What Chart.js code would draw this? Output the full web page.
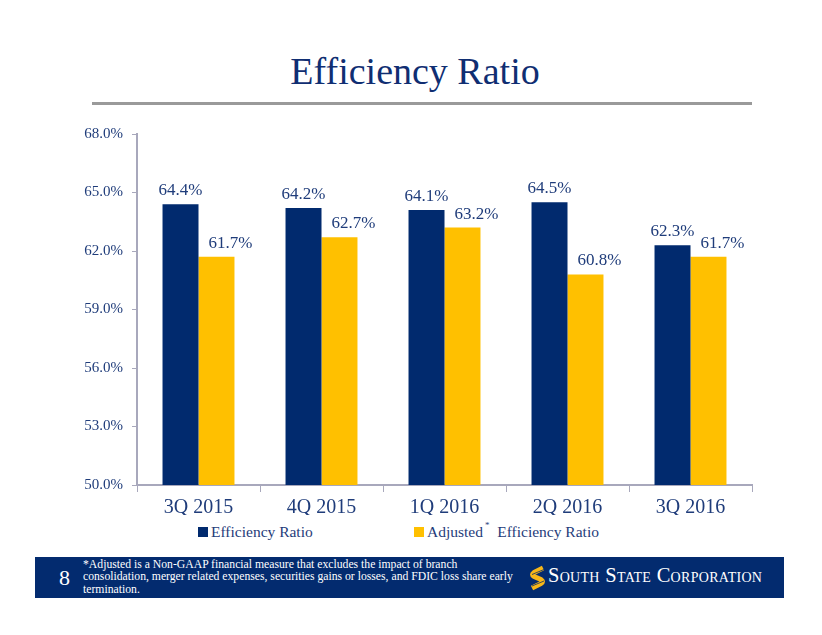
<!DOCTYPE html>
<html>
<head>
<meta charset="utf-8">
<script src="https://cdn.jsdelivr.net/npm/chart.js@4/dist/chart.umd.min.js"></script>
<style>
  html,body{margin:0;padding:0;background:#fff;}
  body{width:822px;height:635px;position:relative;overflow:hidden;font-family:"Liberation Serif",serif;}
  #title{position:absolute;left:0;width:830px;top:49px;text-align:center;font-size:38px;color:#102E72;font-family:"Liberation Serif",serif;}
  #rule{position:absolute;left:92px;top:102px;width:660px;height:3px;background:#9a9a9a;}
  #wrap{position:absolute;left:60px;top:116px;width:700px;height:399px;}
  .leg{position:absolute;top:523px;font-size:15.5px;color:#1F3C7A;white-space:nowrap;}
  .sw{display:inline-block;width:10px;height:10px;margin-right:3px;vertical-align:0px;}
  #footer{position:absolute;left:35px;top:557px;width:749px;height:41px;background:#032B6F;}
  #pg{position:absolute;left:24px;top:8px;font-size:22px;color:#fff;}
  #note{position:absolute;left:48px;top:2px;font-size:11.7px;line-height:12.4px;color:#fff;white-space:nowrap;}
  #logo{position:absolute;left:493px;top:7px;height:28px;}
  #logotxt{position:absolute;left:20px;top:0px;font-size:20.5px;color:#fff;font-variant:small-caps;white-space:nowrap;letter-spacing:0.3px;}
</style>
</head>
<body>
<div id="title">Efficiency Ratio</div>
<div id="rule"></div>
<div id="wrap"><canvas id="c"></canvas></div>
<div class="leg" style="left:198px;"><span class="sw" style="background:#012A6E"></span>Efficiency Ratio</div>
<div class="leg" style="left:414px;"><span class="sw" style="background:#FFC000"></span>Adjusted<sup style="font-size:9px;position:relative;top:-3px;margin-left:2px;">*</sup>&nbsp;&nbsp;Efficiency Ratio</div>
<div id="footer">
  <div id="pg">8</div>
  <div id="note">*Adjusted is a Non-GAAP financial measure that excludes the impact of branch<br>consolidation, merger related expenses, securities gains or losses, and FDIC loss share early<br>termination.</div>
  <div id="logo">
    <svg width="20" height="26" viewBox="0 0 20 26" style="position:absolute;left:0;top:1px;">
      <path d="M15 3 L6 7.5 Q3 9.5 6 11.5 L13 14.5 Q16 16.5 13 18.5 L4 23" fill="none" stroke="#F7B718" stroke-width="5" stroke-linecap="butt" stroke-linejoin="round"/>
      <path d="M4 9.5 L16 4.5 M4 21 L16 16" stroke="#032B6F" stroke-width="0.8"/>
    </svg>
    <div id="logotxt">South State Corporation</div>
  </div>
</div>
<script>
const categories = ["3Q 2015","4Q 2015","1Q 2016","2Q 2016","3Q 2016"];
const efficiencyRatio = [64.4, 64.2, 64.1, 64.5, 62.3];
const adjustedEfficiencyRatio = [61.7, 62.7, 63.2, 60.8, 61.7];
const yTicks = [50, 53, 56, 59, 62, 65, 68];

const NAVY = "#012A6E", GOLD = "#FFC000", TXT = "#1F3C7A", AX = "#A8A8BC";

const labelPlugin = {
  id: "vals",
  afterDatasetsDraw(chart) {
    const ctx = chart.ctx;
    ctx.save();
    ctx.font = "17px 'Liberation Serif'";
    ctx.fillStyle = TXT;
    ctx.textAlign = "center";
    ctx.textBaseline = "bottom";
    const offs = [0, 14];
    chart.data.datasets.forEach((ds, di) => {
      chart.getDatasetMeta(di).data.forEach((el, i) => {
        ctx.fillText(ds.data[i].toFixed(1) + "%", el.x + offs[di], el.y - 5);
      });
    });
    ctx.restore();
  }
};

new Chart(document.getElementById("c"), {
  type: "bar",
  data: {
    labels: categories,
    datasets: [
      {label: "Efficiency Ratio", data: efficiencyRatio, backgroundColor: NAVY, categoryPercentage: 0.585, barPercentage: 1.0},
      {label: "Adjusted* Efficiency Ratio", data: adjustedEfficiencyRatio, backgroundColor: GOLD, categoryPercentage: 0.585, barPercentage: 1.0}
    ]
  },
  options: {
    responsive: true,
    maintainAspectRatio: false,
    animation: false,
    layout: {padding: {top: 0, right: 8, left: 0, bottom: 0}},
    plugins: {legend: {display: false}, tooltip: {enabled: false}},
    scales: {
      x: {
        grid: {display: true, drawOnChartArea: false, drawTicks: true, tickLength: 7, color: AX, offset: true},
        border: {display: true, color: AX, width: 2},
        ticks: {color: TXT, font: {family: "Liberation Serif", size: 20}, padding: 4},
        afterFit(s) { s.height = 30; }
      },
      y: {
        min: 50, max: 68,
        afterBuildTicks(s) { s.ticks = yTicks.map(v => ({value: v})); },
        grid: {display: true, drawOnChartArea: false, drawTicks: true, tickLength: 5, color: AX},
        border: {display: true, color: AX, width: 2},
        ticks: {color: TXT, font: {family: "Liberation Serif", size: 15}, padding: 9,
                callback: v => Number(v).toFixed(1) + "%"},
        afterFit(s) { s.width = 77; }
      }
    }
  },
  plugins: [labelPlugin]
});
</script>
</body>
</html>
